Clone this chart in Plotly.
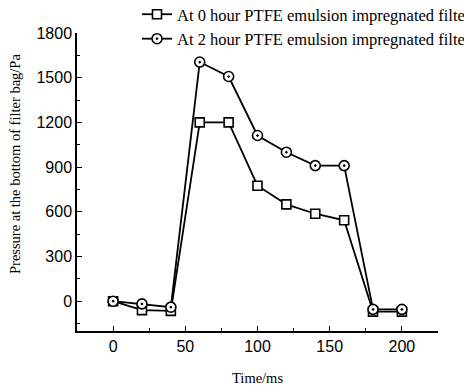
import plotly.graph_objects as go

time_ms = [0, 20, 40, 60, 80, 100, 120, 140, 160, 180, 200]
p_0h = [0, -60, -65, 1200, 1200, 775, 650, 587, 543, -70, -70]
p_2h = [0, -18, -40, 1605, 1508, 1112, 1000, 910, 910, -55, -55]
names = ["At 0 hour PTFE emulsion impregnated filter bag",
         "At 2 hour PTFE emulsion impregnated filter bag"]

fig = go.Figure()
fig.add_trace(go.Scatter(x=time_ms, y=p_0h, mode="lines+markers", name=names[0],
                         line=dict(color="black", width=1.8),
                         marker=dict(symbol="square", size=9, color="white",
                                     line=dict(color="black", width=1.6))))
fig.add_trace(go.Scatter(x=time_ms, y=p_2h, mode="lines+markers", name=names[1],
                         line=dict(color="black", width=1.8),
                         marker=dict(symbol="circle-dot", size=10, color="white",
                                     line=dict(color="black", width=1.6))))

axis_common = dict(showline=True, linecolor="black", linewidth=1.5, ticks="inside",
                   ticklen=5, tickwidth=1.3, tickcolor="black", showgrid=False,
                   zeroline=False, mirror=False,
                   tickfont=dict(family="Liberation Sans, Arial", size=16, color="black"))
fig.update_xaxes(range=[-25, 225], tickvals=[0, 50, 100, 150, 200],
                 minor=dict(tickvals=[-25, 25, 75, 125, 175, 225], ticks="inside", ticklen=3,
                            tickwidth=1.3, tickcolor="black"),
                 **axis_common)
fig.update_yaxes(range=[-200, 1800], tickvals=[0, 300, 600, 900, 1200, 1500, 1800],
                 minor=dict(tickvals=[-150, 150, 450, 750, 1050, 1350, 1650], ticks="inside",
                            ticklen=3, tickwidth=1.3, tickcolor="black"),
                 **axis_common)

fig.update_layout(
    width=464, height=389,
    margin=dict(l=77, r=26, t=33, b=58, autoexpand=False),
    paper_bgcolor="white", plot_bgcolor="white",
    showlegend=True,
    legend=dict(x=(137 - 77) / 361, y=1 + 36 / 298, xanchor="left", yanchor="top",
                bgcolor="rgba(0,0,0,0)", borderwidth=0,
                font=dict(family="Liberation Serif, Times New Roman", size=16.5, color="black"),
                tracegroupgap=0),
    annotations=[
        dict(text="Time/ms", x=0.5, y=0, xref="paper", yref="paper", showarrow=False,
             yanchor="middle", yshift=-47,
             font=dict(family="Liberation Serif, Times New Roman", size=14.5, color="black")),
        dict(text="Pressure at the bottom of filter bag/Pa", textangle=-90,
             xref="paper", yref="paper", x=0, y=(331 - 164) / 298, showarrow=False,
             xanchor="center", yanchor="middle", xshift=15 - 77,
             font=dict(family="Liberation Serif, Times New Roman", size=14.5, color="black")),
    ],
)
fig.write_html("out.html")
